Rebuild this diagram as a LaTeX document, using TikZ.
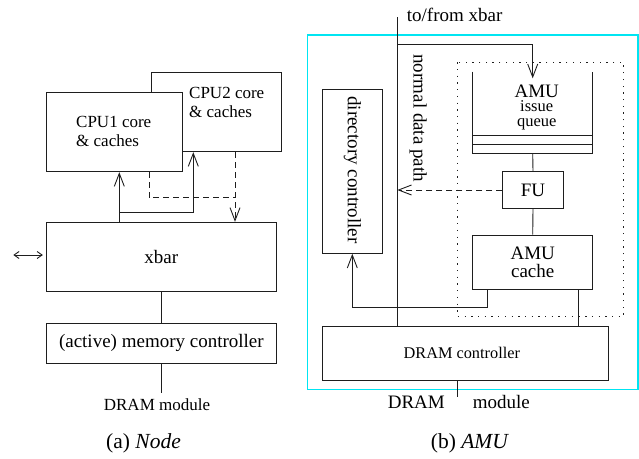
\documentclass[tikz,border=0pt]{standalone}
\usepackage{fontspec}
\setmainfont{Liberation Serif}
\usetikzlibrary{arrows.meta,calc}
\definecolor{amucyan}{rgb}{0,0.9,0.95}
\definecolor{ink}{RGB}{30,30,30}
\tikzset{
  box/.style={draw=ink,line width=0.9pt,fill=white,inner sep=0pt},
  ln/.style={draw=ink,line width=0.9pt},
  arr/.style={ln,-{Straight Barb[length=13pt,width=10pt,line width=0.9pt]}},
  darr/.style={ln,{Straight Barb[length=5pt,width=7pt]}-{Straight Barb[length=5pt,width=7pt]}},
  dsh/.style={dash pattern=on 6pt off 4pt},
  txt/.style={inner sep=0pt,font=\fontsize{19}{18.5}\selectfont},
  cputxt/.style={inner sep=0pt,font=\fontsize{17}{18.3}\selectfont,align=left,anchor=west},
  captxt/.style={inner sep=0pt,font=\fontsize{21.5}{22}\selectfont},
}
\begin{document}
\begin{tikzpicture}[x=1pt,y=-1pt]
\useasboundingbox (0,0) rectangle (639,458);
% ---------- (a) Node ----------
\node[box,minimum width=130.7pt,minimum height=79.4pt] (cpu2) at (216.35,112) {};
\node[cputxt] (cpu2t) at (189,102.5) {CPU2 core\\\& caches};
\node[box,minimum width=136.7pt,minimum height=79.4pt] (cpu1) at (114.35,132) {};
\node[cputxt] (cpu1t) at (76,131.5) {CPU1 core\\\& caches};
\node[box,minimum width=230.7pt,minimum height=69.4pt,txt] (xbar) at (161.35,257) {xbar};
\node[box,minimum width=230.7pt,minimum height=40pt,txt] (mem) at (161.35,343.3) {(active) memory controller};
\node[txt,font=\fontsize{17}{17}\selectfont] (dramA) at (157,405) {DRAM module};
\node[captxt] (capa) at (143.5,443) {(a) \textit{Node}};

\coordinate (xa) at (119.3,212.7);
\coordinate (xb) at (193.3,212.7);
\coordinate (xc) at (149,197.7);
\coordinate (xd) at (235,197.7);
\coordinate (ext) at (13.3,255);
\coordinate (memend) at (161.35,392.7);

\draw[arr] (xbar.north -| xa) -- (cpu1.south -| xa);
\draw[arr] (xa) -- (xb) -- (cpu2.south -| xb);
\draw[ln,dsh] (cpu1.south -| xc) -- (xc) -- (xd);
\draw[arr,dsh] (cpu2.south -| xd) -- (xbar.north -| xd);
\draw[darr,shorten >=2.7pt] (ext) -- (xbar.west |- ext);
\draw[ln] (xbar.south) -- (mem.north);
\draw[ln] (mem.south) -- (memend);

% ---------- (b) AMU ----------
\draw[color=amucyan,line width=1.2pt] (307.3,35) rectangle (637.9,389.3);
\draw[ink,line width=1pt,dash pattern=on 1.3pt off 5.4pt] (457.7,62.3) rectangle (623.3,316.7);

\node[box,minimum width=60pt,minimum height=164pt] (dir) at (352.3,171.3) {};
\node[txt,rotate=-90] (dirt) at (352.3,170) {directory controller};
\node[box,minimum width=286pt,minimum height=54pt,inner sep=0pt,font=\fontsize{16.3}{16}\selectfont] (dramc) at (465.3,353) {\hspace*{-7pt}\raisebox{-4pt}{DRAM controller}};
\node[box,minimum width=60.6pt,minimum height=36.6pt,txt] (fu) at (533,190) {FU};
\node[box,minimum width=120pt,minimum height=54.3pt,txt,align=center] (cache) at (532.7,262.2) {AMU\\cache};
\node[minimum width=120pt,minimum height=81.6pt,inner sep=0pt] (queue) at (532.7,112.5) {};
\draw[ln] (queue.north west) -- (queue.south west) -- (queue.south east) -- (queue.north east);
\draw[ln] ($(queue.west)+(0,22.5)$) -- ($(queue.east)+(0,22.5)$);
\draw[ln] ($(queue.west)+(0,31.5)$) -- ($(queue.east)+(0,31.5)$);
\node[inner sep=0pt,font=\fontsize{16.5}{15.2}\selectfont,align=center] (qt) at (536.7,107.6) {{\fontsize{19}{15.2}\selectfont AMU}\\[-1.1pt]issue\\queue};

\coordinate (top) at (397.3,17.3);
\coordinate (br) at (397.3,44);
\coordinate (qin) at (532.7,78.3);
\coordinate (xe) at (487.7,307.7);
\coordinate (xg) at (578.3,300);
\coordinate (xh) at (457.7,396.7);

\node[txt,anchor=west] (tofrom) at (406.7,15) {to/from xbar};
\node[txt,rotate=-90] (ndp) at (418.3,118.3) {normal data path};

\draw[ln] (top) -- (dramc.north -| top);
\draw[arr] (br) -| (qin);
\draw[ln] (queue.south) -- (fu.north);
\draw[arr,dsh] (fu.west) -- (fu.west -| top);
\draw[ln] (fu.south) -- (cache.north);
\draw[arr] (cache.south -| xe) -- (xe) -- (dir.south |- xe) -- (dir.south);
\draw[ln] (cache.south -| xg) -- (dramc.north -| xg);
\draw[ln] (dramc.south -| xh) -- (xh);
\node[txt,anchor=east] (dramB) at (445,402) {DRAM};
\node[txt,anchor=west] (modB) at (472.7,402) {module};
\node[captxt] (capb) at (470,443) {(b) \textit{AMU}};
\end{tikzpicture}
\end{document}
